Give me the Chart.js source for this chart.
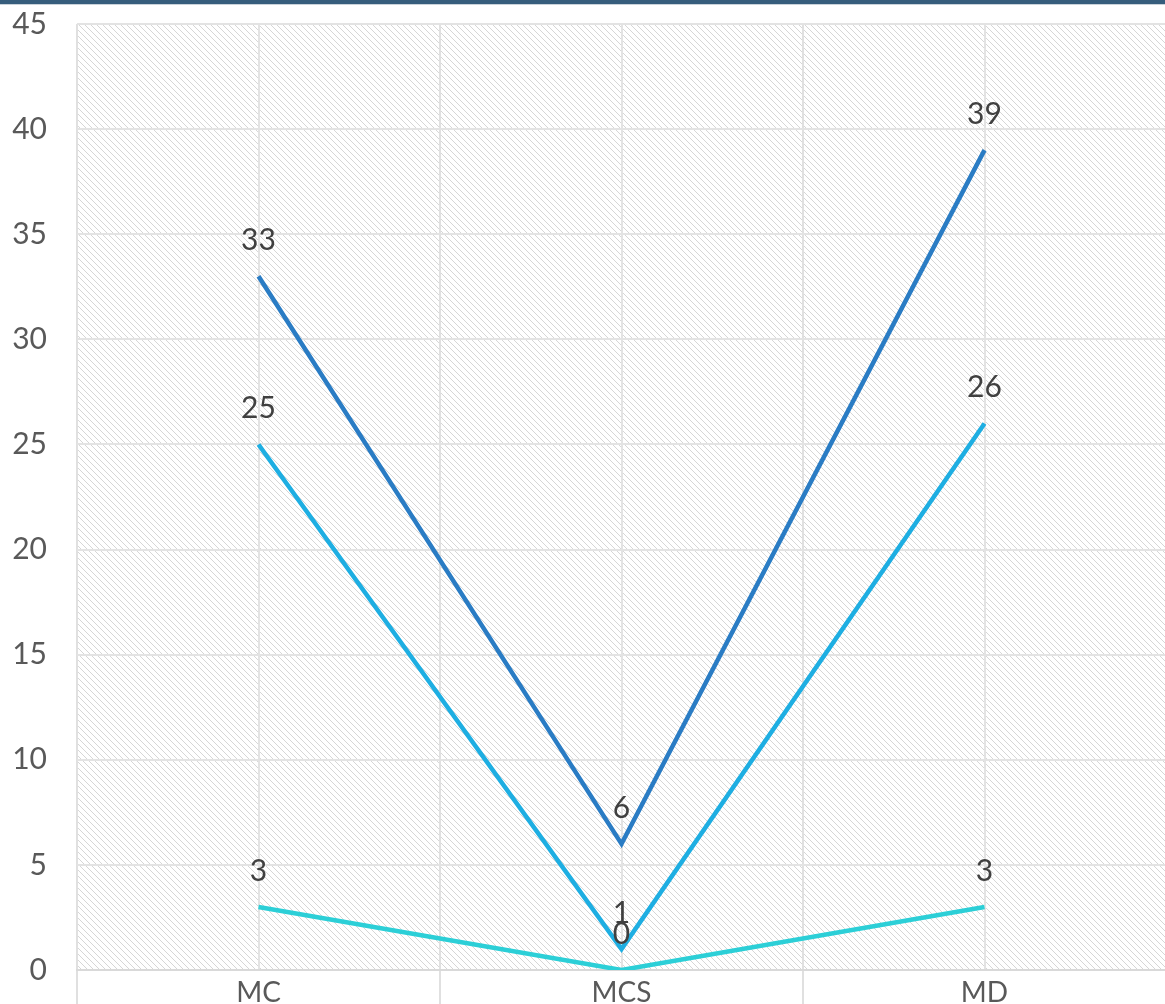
<!DOCTYPE html>
<html>
<head>
<meta charset="utf-8">
<script src="https://cdn.jsdelivr.net/npm/chart.js@4"></script>
<style>
  html, body { margin: 0; padding: 0; background: #fff; overflow: hidden; }
  #wrap { position: relative; width: 1166px; height: 1004px; }
  #topbar { position: absolute; left: 0; top: 0; width: 1165px; height: 4px; background: #365d7c; border-bottom: 1px solid #c9d2da; z-index: 2; }
</style>
</head>
<body>
<div id="wrap">
  <div id="topbar"></div>
  <canvas id="chart" width="1166" height="1004"></canvas>
</div>
<script>
const categories = ["MC", "MCS", "MD"];
const series1 = [33, 6, 39];
const series2 = [25, 1, 26];
const series3 = [3, 0, 3];
const yTicks = [0, 5, 10, 15, 20, 25, 30, 35, 40, 45];

const FONT = "'Lato', 'Noto Sans', sans-serif";

function makeHatch() {
    const c = document.createElement("canvas");
    c.width = 6; c.height = 6;
    const g = c.getContext("2d");
    g.fillStyle = "#ffffff";
    g.fillRect(0, 0, 6, 6);
    g.fillStyle = "#d6d6d6";
    for (let i = 0; i < 6; i++) {
        g.fillRect(i, i, 1, 1);
    }
    return g.createPattern(c, "repeat");
}

// hatched plot background
const hatchBg = {
    id: "hatchBg",
    beforeDraw(chart) {
        const a = chart.chartArea;
        const ctx = chart.ctx;
        ctx.save();
        ctx.fillStyle = makeHatch();
        ctx.fillRect(a.left, a.top, a.right - a.left, a.bottom - a.top);
        ctx.restore();
    }
};

// value labels above each point
const valueLabels = {
    id: "valueLabels",
    afterDatasetsDraw(chart) {
        const ctx = chart.ctx;
        ctx.save();
        ctx.font = "30px " + FONT;
        ctx.fillStyle = "#404040";
        ctx.textAlign = "center";
        ctx.textBaseline = "middle";
        chart.data.datasets.forEach((ds, i) => {
            chart.getDatasetMeta(i).data.forEach((pt, j) => {
                ctx.fillText(String(ds.data[j]), pt.x, pt.y - 36);
            });
        });
        ctx.restore();
    }
};

function noPad(scale) {
    scale.paddingTop = 0;
    scale.paddingBottom = 0;
    scale.paddingLeft = 0;
    scale.paddingRight = 0;
}

const ctx = document.getElementById("chart");

new Chart(ctx, {
    type: "line",
    data: {
        labels: categories,
        datasets: [
            { label: "Series 1", data: series1, borderColor: "#2a7cc4", borderWidth: 4.5, pointRadius: 0, tension: 0 },
            { label: "Series 2", data: series2, borderColor: "#1eaee2", borderWidth: 4.5, pointRadius: 0, tension: 0 },
            { label: "Series 3", data: series3, borderColor: "#2ccfd7", borderWidth: 4.5, pointRadius: 0, tension: 0 }
        ]
    },
    options: {
        responsive: false,
        animation: false,
        layout: { padding: { top: 24, left: 0, right: 0, bottom: 0 } },
        plugins: { legend: { display: false }, tooltip: { enabled: false } },
        scales: {
            // boundary grid lines, running down through the label band
            xb: {
                type: "category",
                labels: categories,
                offset: true,
                position: "bottom",
                weight: 0,
                grid: { offset: true, color: "#e0e0e0", lineWidth: 2, drawTicks: true, tickLength: 34 },
                border: { display: true, color: "#d9d9d9", width: 2 },
                ticks: { display: false },
                afterFit(scale) { scale.height = 0; noPad(scale); }
            },
            x: {
                type: "category",
                offset: true,
                position: "bottom",
                weight: 1,
                grid: { offset: false, color: "#e3e3e3", lineWidth: 2, drawTicks: false },
                border: { display: false },
                ticks: { color: "#595959", font: { family: FONT, size: 28 }, padding: 6 },
                afterFit(scale) { scale.height = 34; noPad(scale); }
            },
            y: {
                min: 0,
                max: 45,
                afterBuildTicks(scale) { scale.ticks = yTicks.map(v => ({ value: v })); },
                grid: { color: "#e3e3e3", lineWidth: 2, drawTicks: false },
                border: { display: false },
                ticks: { color: "#595959", font: { family: FONT, size: 30 }, padding: 30 },
                afterFit(scale) { scale.width = 77; noPad(scale); }
            }
        }
    },
    plugins: [hatchBg, valueLabels]
});
</script>
</body>
</html>
